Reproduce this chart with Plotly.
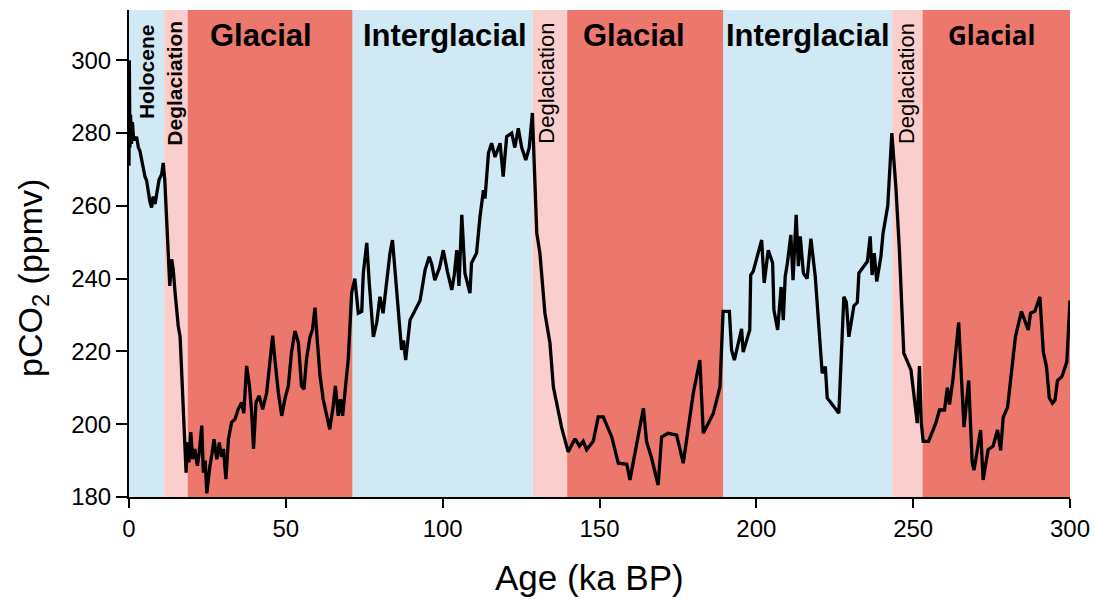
import plotly.graph_objects as go

# ---- data ----
age_ka = [0, 0.1, 0.3, 0.5, 0.8, 1.1, 1.4, 1.9, 2.4, 3.0, 3.5, 4.1, 4.6, 5.1, 5.6, 6.2, 6.7, 7.2, 7.7, 8.3,
          8.8, 9.6, 10.4, 10.9, 11.4, 12, 12.5, 13, 13.6, 14.1, 14.7, 15.2, 15.7, 16.3, 16.8, 17.3, 17.8, 18.2,
          18.6, 19.1, 19.7, 20.3, 21, 21.8, 22.4, 23.2, 23.7, 24.3, 24.8, 25.3, 25.8, 26.5, 27.1, 28, 28.8,
          29.5, 30.1, 30.9, 31.7, 32.7, 33.8, 34.8, 35.9, 36.6, 37.5, 38.4, 39.1, 39.7, 40.5, 41.5, 42.6,
          43.9, 44.9, 45.8, 46.5, 47.6, 48.7, 49.7, 50.8, 51.8, 52.9, 54, 55, 55.8, 56.6, 57.7, 58.5, 59.3,
          60, 60.9, 61.9, 63, 64, 65.1, 65.8, 66.7, 67.4, 68.1, 68.8, 69.9, 71, 72,
          73.1, 74.2, 74.7, 75.8, 76.6, 77.9, 79, 80, 81, 83.2, 84, 85.5, 86.9, 87.5, 88.2, 89.6, 91, 92.8,
          94.4, 95.7, 96.5, 97.5, 99, 100.2, 101.5, 102.9, 103.7, 104.5, 105.2, 106.1, 107.1, 108.7, 109.2,
          110.8, 111.9, 113, 113.5, 114.6, 115.6, 116.7, 118.3, 119.3, 120.4, 122, 123, 124.1, 125.2, 126.5,
          127.6, 128.6, 130, 131, 132.6, 134.2, 135.3, 137.9, 140, 142.2, 143.6, 144.8, 145.9, 148, 149.6,
          151.2, 153.9, 156, 158.7, 159.7, 164, 165, 166.6, 168.7, 169.8, 171.9, 174.6, 176.7, 179.9, 182,
          183.1, 186.3, 188.4, 189.4, 191.4, 192.1, 193, 195.3, 195.8, 197.9, 198.2, 199, 201.7, 202.5,
          203.8, 205.2, 205.6, 206.8, 207.9, 208.6, 209.2, 209.9, 211, 211.7, 212.7, 213.4, 214, 215, 216.2,
          217.4, 218.8, 221, 222, 222.6, 224.2, 226.3, 227.9, 228.7, 229.5, 231.1, 232.2, 232.7, 235.4,
          236.3, 236.9, 237.6, 238.4, 239.7, 240.4, 241.9, 243.2, 244.5, 245.6, 246.1, 247, 249.3, 251.3,
          252, 252.6, 253.2, 254.9, 257.2, 258.4, 260, 260.9, 261.6, 262.7, 264.5, 266.2, 267.7, 268.8,
          269.4, 271.5, 272.3, 273.9, 275.5, 276.9, 277.9, 278.7, 280.1, 281.4, 282.6, 284.5, 286.7, 287.4,
          288.8, 290.4, 291.5, 292.5, 293.4, 294.4, 295.2, 296, 297.4, 299, 300]
pco2_ppmv = [271, 300, 276, 285, 277, 283, 279, 278, 279, 276, 275, 272, 270, 268, 267, 263.6, 261, 259.5, 262.6, 260.5,
             263.6, 267.2, 268.6, 271.8, 267.2, 254.4, 245.3, 238, 245.3, 242.5, 236, 230.6, 227, 224, 213.3, 204.1, 190.4, 186.7,
             195, 189.5, 197.8, 190.4, 193.2, 188.6, 192.3, 199.6, 186.7, 190, 181, 186, 188.6, 192, 195.9, 190.4, 195,
             191, 193.2, 184.9, 195.9, 200.5, 201.4, 204.1, 206, 203, 216, 210.5, 203.2, 193.2, 206, 207.8, 204.1,
             208.7, 216, 224.3, 217.9, 208.7, 202.3, 206.9, 210.5, 219.7, 225.6, 222.4, 210.5, 209.6, 217.9, 224, 226, 232,
             223.3, 213.3, 206.9, 202.3, 198.6, 205, 210.5, 202.3, 206.9, 202.3, 207.8, 217.9, 236.2, 240,
             230.5, 231, 241.5, 249.8, 238.8, 224, 228, 235, 230.5, 247, 250.6, 235, 220.4, 223, 217.6, 228.6, 231, 234,
             242.4, 246, 244, 239.6, 243, 247.8, 242, 236.9, 241, 247.8, 238, 257.5, 241.5, 236, 244.3,
             247, 257, 264.3, 262, 274.5, 277.2, 273.4, 277.2, 268, 279, 280, 276, 281.3, 276, 272.6,
             276, 285.5, 252.5, 247, 230.5, 222.3, 210.2, 199.2, 192.4, 196, 194, 195.3, 193, 195.3, 202,
             202, 196.5, 189.3, 189, 184.7, 204.4, 195.3, 190.7, 183.3, 196.5, 197.5, 197, 189.3, 208.5, 217.6,
             197.5, 203, 210.2, 231, 231, 220.4, 217.6, 226.2, 219.8, 225.9, 241, 242, 250.6, 238.8,
             247.8, 244.3, 231.4, 225.9, 237.7, 228.6, 240.5, 244.3, 252, 239.6, 257.5, 243.4, 251.6, 241.5, 240,
             251, 240.5, 214, 215.8, 207.2, 205.4, 203, 235, 233.5, 224, 232.5, 233.5, 241.5, 244.7,
             251.6, 241, 247, 239.2, 246, 252.5, 260, 280, 265, 248, 236.5, 219.5, 214.9, 200.3,
             216, 200.3, 195.3, 195.3, 200.3, 203.9, 203.9, 210, 205.4, 212.5, 228, 199.2, 212, 189.6,
             187.4, 198.4, 184.7, 193, 194, 198.4, 192.8, 201.9, 204.7, 215.8, 224, 231, 225.9, 230.5,
             231, 235, 219.8, 215.8, 207.2, 205.8, 206.6, 212, 213, 217.2, 234]

band_start = [0, 11.2, 18.7, 71.3, 128.7, 139.7, 189.5, 243.3, 253]
band_end = [11.2, 18.7, 71.3, 128.7, 139.7, 189.5, 243.3, 253, 300]
band_kind = ["Holocene", "Deglaciation", "Glacial", "Interglacial", "Deglaciation",
             "Glacial", "Interglacial", "Deglaciation", "Glacial"]
label_x = [5.4, 14.4, 42, 100.7, 133.0, 161, 216.5, 247.9, 275]

x_ticks = [0, 50, 100, 150, 200, 250, 300]
y_ticks = [180, 200, 220, 240, 260, 280, 300]

kind_color = {"Holocene": "#D1E8F5", "Interglacial": "#D1E8F5",
              "Deglaciation": "#F9CECC", "Glacial": "#EC776C"}

ARIAL = "Liberation Sans, Arial, sans-serif"

fig = go.Figure()
fig.add_trace(go.Scatter(x=age_ka, y=pco2_ppmv, mode="lines",
                         line=dict(color="black", width=3.3), showlegend=False,
                         hoverinfo="x+y"))

for s, e, k in zip(band_start, band_end, band_kind):
    fig.add_shape(type="rect", xref="x", yref="paper", x0=s, x1=e, y0=0, y1=1,
                  fillcolor=kind_color[k], line_width=0, layer="below")

for i, (k, lx) in enumerate(zip(band_kind, label_x)):
    if k in ("Holocene", "Deglaciation"):
        bold = i in (0, 1)
        fig.add_annotation(x=lx, y=297 if k == "Holocene" else 293.6, xref="x", yref="y",
                           text=f"<b>{k}</b>" if bold else k, showarrow=False, textangle=-90,
                           font=dict(family=ARIAL, size=21 if bold else 22, color="black"))
    else:
        last = i == 8
        fig.add_annotation(x=lx, y=306.8, xref="x", yref="y",
                           text=f"<b>{k}</b>", showarrow=False,
                           font=dict(family="Open Sans" if last else ARIAL,
                                     size=26 if last else 31, color="black"))

# axis titles as annotations (positioned like the reference)
fig.add_annotation(x=-96 / 941, y=(497 - 278) / 487, xref="paper", yref="paper",
                   text="pCO<sub>2</sub> (ppmv)", showarrow=False, textangle=-90,
                   xanchor="center", yanchor="middle",
                   font=dict(family=ARIAL, size=34, color="black"))
fig.add_annotation(x=(589 - 129) / 941, y=(497 - 577) / 487, xref="paper", yref="paper",
                   text="Age (ka BP)", showarrow=False,
                   xanchor="center", yanchor="middle",
                   font=dict(family=ARIAL, size=35, color="black"))

fig.update_layout(
    width=1095, height=599,
    margin=dict(l=129, r=25, t=10, b=102),
    plot_bgcolor="white", paper_bgcolor="white",
    xaxis=dict(range=[0, 300], tickvals=x_ticks, ticks="outside", ticklen=9, tickwidth=2,
               tickcolor="black", showline=True, linecolor="black", linewidth=2,
               showgrid=False, zeroline=False, automargin=False,
               tickfont=dict(family=ARIAL, size=24, color="black")),
    yaxis=dict(range=[180, 313.8], tickvals=y_ticks, ticks="outside", ticklen=11, tickwidth=2,
               tickcolor="black", showline=True, linecolor="black", linewidth=2,
               showgrid=False, zeroline=False, automargin=False,
               tickfont=dict(family=ARIAL, size=24, color="black")),
)

fig.write_html("out.html")
